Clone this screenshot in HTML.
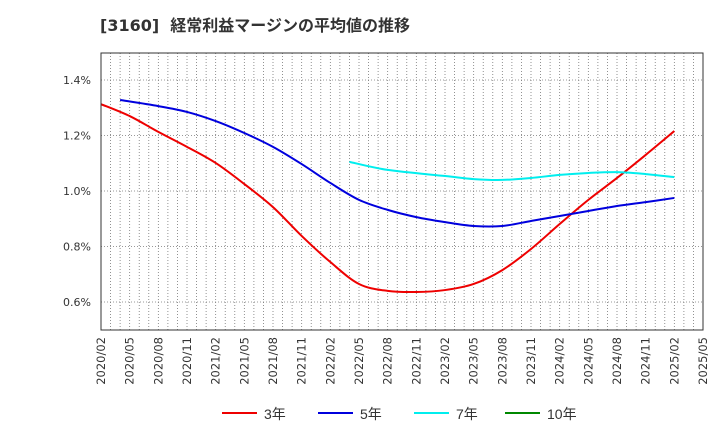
<!DOCTYPE html>
<html><head><meta charset="utf-8"><style>
body{margin:0;background:#fff;font-family:"Liberation Sans","Noto Sans CJK JP",sans-serif;}
</style></head><body>
<svg id="chart" width="720" height="440" xmlns="http://www.w3.org/2000/svg" style="display:block">
<text x="100" y="31" font-size="16" font-weight="bold" fill="#333" font-family="DejaVu Sans, Noto Sans CJK JP, sans-serif" xml:space="preserve">[3160]  経常利益マージンの平均値の推移</text>
<g id="grid"></g>
<g id="lines"></g>
<g id="axes"></g>
<g id="legend"></g>
</svg>
<script>
const yTicks = [0.6, 0.8, 1.0, 1.2, 1.4];
const xTickLabels = ["2020/02","2020/05","2020/08","2020/11","2021/02","2021/05","2021/08","2021/11","2022/02","2022/05","2022/08","2022/11","2023/02","2023/05","2023/08","2023/11","2024/02","2024/05","2024/08","2024/11","2025/02","2025/05"];
const months3 = [0,3,6,9,12,15,18,21,24,27,30,33,36,39,42,45,48,51,54,57,60];
const values3 = [1.313,1.270,1.213,1.159,1.101,1.025,0.942,0.838,0.744,0.665,0.640,0.636,0.643,0.665,0.715,0.791,0.881,0.968,1.047,1.130,1.216];
const months5 = [2,6,9,12,15,18,21,24,27,30,33,36,39,42,45,48,51,54,57,60];
const values5 = [1.328,1.306,1.285,1.252,1.209,1.159,1.097,1.029,0.968,0.932,0.906,0.888,0.874,0.874,0.892,0.910,0.928,0.946,0.960,0.975];
const months7 = [26,30,36,39,42,45,48,51,54,57,60];
const values7 = [1.105,1.076,1.054,1.043,1.040,1.047,1.058,1.065,1.068,1.061,1.050];
const months10 = [];
const values10 = [];

const NS="http://www.w3.org/2000/svg";
const L=101,R=703,T=53,B=330;
const X=m=>L+m*(R-L)/63;
const Y=v=>302-(v-0.6)*55.5/0.2;
function mk(tag,attrs,parent){const e=document.createElementNS(NS,tag);for(const k in attrs)e.setAttribute(k,attrs[k]);parent.appendChild(e);return e;}
const grid=document.getElementById('grid'),axes=document.getElementById('axes'),lines=document.getElementById('lines'),legend=document.getElementById('legend');
for(let m=1;m<63;m++){
  const g=mk('line',{x1:X(m),x2:X(m),y1:T,y2:B,stroke:'#777','stroke-width':0.8,'stroke-dasharray':'1,2'},grid);
  
  
}
yTicks.forEach(v=>{
  const g=mk('line',{x1:L,x2:R,y1:Y(v),y2:Y(v),stroke:'#777','stroke-width':0.8,'stroke-dasharray':'1,2'},grid);
  
  
  const t=mk('text',{x:91,y:Y(v)+4,'text-anchor':'end','font-size':11,fill:'#333','font-family':'DejaVu Sans, sans-serif'},axes);
  t.textContent=v.toFixed(1)+'%';
  
  
});
const frame=mk('rect',{x:L,y:T,width:R-L,height:B-T,fill:'none',stroke:'#333','stroke-width':1},axes);


xTickLabels.forEach((s,i)=>{
  const x=X(i*3);
  const t=mk('text',{x:0,y:0,'text-anchor':'end','font-size':11.5,fill:'#333','font-family':'DejaVu Sans, sans-serif',transform:`translate(${x+4},337) rotate(-90)`},axes);
  t.textContent=s;
  
  
});
function series(ms,vs,color,name){
  if(!ms.length)return;
  const pts=ms.map((m,i)=>[X(m),Y(vs[i])]);
  let d='M'+pts[0][0]+','+pts[0][1];
  for(let i=0;i<pts.length-1;i++){
    const p0=pts[Math.max(0,i-1)],p1=pts[i],p2=pts[i+1],p3=pts[Math.min(pts.length-1,i+2)];
    const c1=[p1[0]+(p2[0]-p0[0])/6,p1[1]+(p2[1]-p0[1])/6],c2=[p2[0]-(p3[0]-p1[0])/6,p2[1]-(p3[1]-p1[1])/6];
    d+=` C${c1[0]},${c1[1]} ${c2[0]},${c2[1]} ${p2[0]},${p2[1]}`;
  }
  const p=mk('path',{d:d,fill:'none',stroke:color,'stroke-width':2},lines);
  
  
}
series(months3,values3,'#ee0000','line-3yr');
series(months5,values5,'#0000dd','line-5yr');
series(months7,values7,'#00eeee','line-7yr');
series(months10,values10,'#008800','line-10yr');
const leg=[['3年','#ee0000',222],['5年','#0000dd',318],['7年','#00eeee',414],['10年','#008800',505]];
leg.forEach(([s,c,x])=>{
  const g=mk('g',{},legend);
  
  
  mk('line',{x1:x,x2:x+35,y1:413,y2:413,stroke:c,'stroke-width':2},g);
  const t=mk('text',{x:x+42,y:419,'font-size':14,fill:'#333'},g);
  t.textContent=s;
});
</script>
</body></html>
